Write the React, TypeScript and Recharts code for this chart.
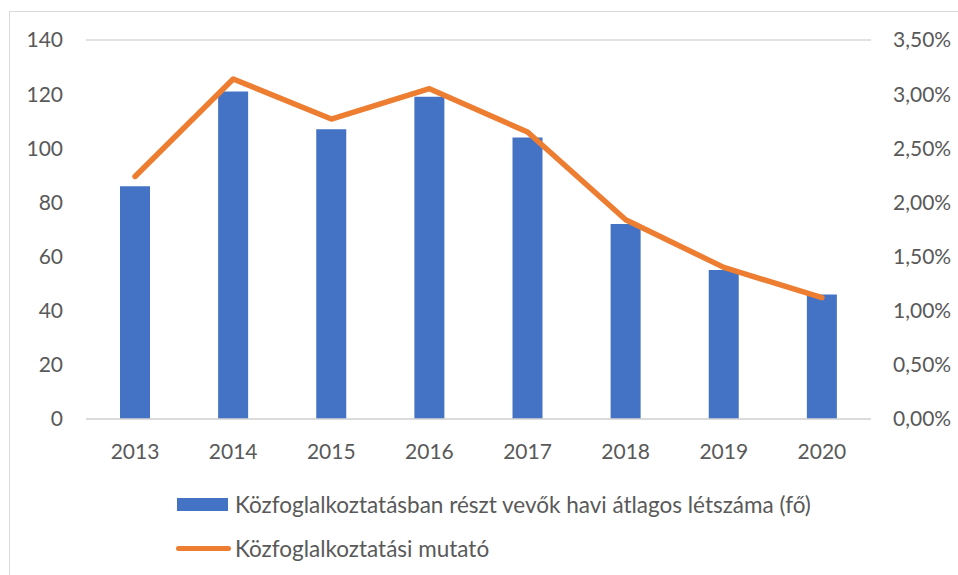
import {
  Bar,
  CartesianGrid,
  ComposedChart,
  Legend,
  Line,
  XAxis,
  YAxis,
} from "recharts";
import { type JSX } from "react";

const years = ["2013", "2014", "2015", "2016", "2017", "2018", "2019", "2020"];
const headcount = [86, 121, 107, 119, 104, 72, 55, 46];
const rate = [2.24, 3.14, 2.77, 3.05, 2.65, 1.84, 1.4, 1.12];

const leftTicks = [0, 20, 40, 60, 80, 100, 120, 140];
const rightTicks = [0, 0.5, 1, 1.5, 2, 2.5, 3, 3.5];

const barName = "Közfoglalkoztatásban részt vevők havi átlagos létszáma (fő)";
const lineName = "Közfoglalkoztatási mutató";

const FONT = "Lato, 'Open Sans', sans-serif";
const TEXT = "#595959";
const BLUE = "#4472C4";
const ORANGE = "#ED7D31";

const data = years.map((y, i) => ({
  year: y,
  headcount: headcount[i],
  rate: rate[i],
}));

const fmtPct = (v: number) => v.toFixed(2).replace(".", ",") + "%";

const renderLegend = ({ payload }: any) => (
  <div style={{ fontFamily: FONT, fontSize: 22.5, color: TEXT }}>
    {(payload ?? []).map((p: any) => (
      <div
        key={p.value}
        style={{ display: "flex", alignItems: "center", height: 44 }}
      >
        {p.type === "line" ? (
          <span
            style={{
              display: "inline-block",
              width: 55,
              height: 5,
              borderRadius: 3,
              background: p.color,
              marginRight: 4,
            }}
          />
        ) : (
          <span
            style={{
              display: "inline-block",
              width: 51,
              height: 13,
              background: p.color,
              marginLeft: 1,
              marginRight: 7,
            }}
          />
        )}
        <span style={{ whiteSpace: "nowrap" }}>{p.value}</span>
      </div>
    ))}
  </div>
);

const App = (): JSX.Element => {
  const tick = { fill: TEXT, fontSize: 21, fontFamily: FONT };
  return (
    <div
      style={{
        position: "absolute",
        left: 0,
        top: 0,
        width: 958,
        height: 575,
        overflow: "hidden",
        background: "#fff",
      }}
    >
      <div
        style={{
          position: "absolute",
          left: 9,
          top: 11,
          width: 1000,
          height: 700,
          border: "1.5px solid #d9d9d9",
          pointerEvents: "none",
        }}
      />
      <ComposedChart
        width={958}
        height={575}
        data={data}
        margin={{ top: 40, right: 0, bottom: 126, left: 0 }}
      >
        <CartesianGrid vertical={false} stroke="#d9d9d9" strokeWidth={1.5} />
        <XAxis
          dataKey="year"
          height={30}
          axisLine={{ stroke: "#d9d9d9", strokeWidth: 1.5 }}
          tickLine={false}
          tickSize={0}
          tickMargin={25}
          tick={tick}
        />
        <YAxis
          yAxisId="left"
          width={86}
          domain={[0, 140]}
          ticks={leftTicks}
          axisLine={false}
          tickLine={false}
          tickSize={0}
          tickMargin={23}
          tick={tick}
        />
        <YAxis
          yAxisId="right"
          orientation="right"
          width={87}
          domain={[0, 3.5]}
          ticks={rightTicks}
          tickFormatter={fmtPct}
          axisLine={false}
          tickLine={false}
          tickSize={0}
          tickMargin={22}
          tick={{ ...tick, textAnchor: "start" }}
        />
        <Bar
          yAxisId="left"
          dataKey="headcount"
          name={barName}
          fill={BLUE}
          barSize={30}
          legendType="rect"
          isAnimationActive={false}
        />
        <Line
          yAxisId="right"
          dataKey="rate"
          name={lineName}
          stroke={ORANGE}
          strokeWidth={5.5}
          strokeLinecap="round"
          strokeLinejoin="round"
          dot={false}
          activeDot={false}
          legendType="line"
          isAnimationActive={false}
        />
        <Legend
          layout="vertical"
          align="center"
          verticalAlign="middle"
          content={renderLegend}
          wrapperStyle={{ top: 482, left: 176, width: 740 }}
        />
      </ComposedChart>
    </div>
  );
};

export default App;
